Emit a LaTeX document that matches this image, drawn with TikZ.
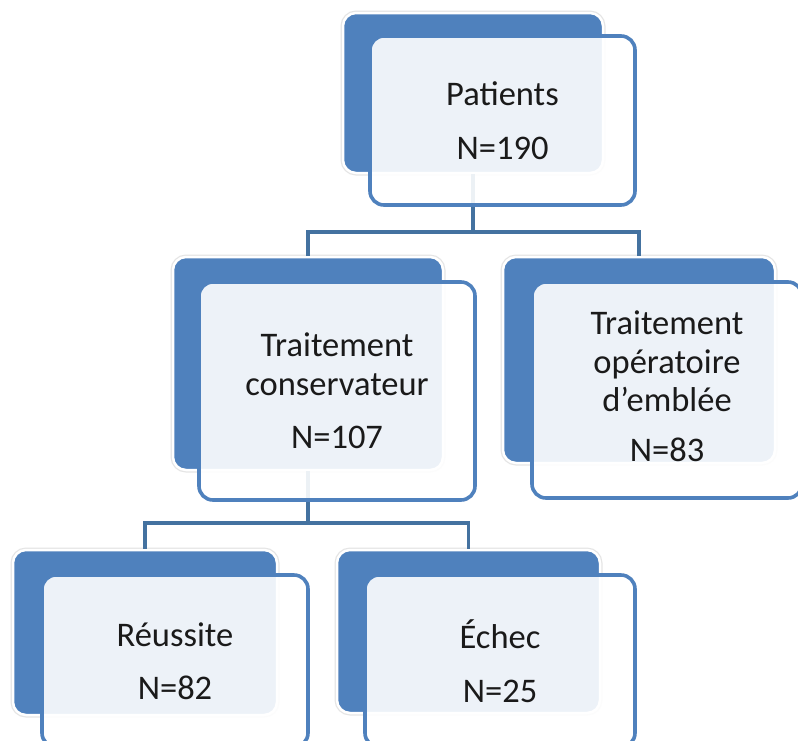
\documentclass[tikz,border=0pt]{standalone}
\usepackage{fontspec}
\setmainfont{Carlito}
\definecolor{backblue}{HTML}{4F81BD}
\definecolor{frontline}{HTML}{4F81BD}
\definecolor{connblue}{HTML}{4472A0}
\definecolor{txt}{HTML}{1A1A1A}
\tikzset{
  backbox/.style={rectangle, rounded corners=13pt, fill=backblue,
    preaction={draw=black!10, line width=5pt}, draw=white, line width=2.5pt,
    inner sep=0pt},
  frontbox/.style={rectangle, rounded corners=14pt, fill=white, fill opacity=0.9,
    text opacity=1, draw=frontline, line width=3.6pt, inner sep=0pt,
    align=center, text=txt, font=\fontsize{34.5}{38.5}\selectfont},
  boxtext/.style={align=center, text=txt, inner sep=0pt, font=\fontsize{34.5}{38.5}\selectfont},
  conn/.style={draw=connblue, line width=3.6pt}
}
\begin{document}
\begin{tikzpicture}[x=1pt,y=-1pt]
\fill[white] (0,0) rectangle (798,740);
\clip (0,0) rectangle (798,740);
% back boxes
\node[backbox, minimum width=260pt, minimum height=160pt] (pB) at (473,93) {};
\node[backbox, minimum width=270pt, minimum height=213pt] (cB) at (308,363.5) {};
\node[backbox, minimum width=272pt, minimum height=206pt] (oB) at (639,360) {};
\node[backbox, minimum width=264pt, minimum height=165pt] (rB) at (145,632.5) {};
\node[backbox, minimum width=263pt, minimum height=163pt] (eB) at (468.5,631.5) {};
% junctions
\coordinate (j1) at (473,232);
\coordinate (j2) at (308,523);
% connectors
\draw[conn] (pB.south) -- (j1);
\draw[conn] (cB.north) |- (j1) -| (oB.north);
\draw[conn] (cB.south) -- (j2);
\draw[conn] (rB.north) |- (j2) -| (eB.north);
% front boxes
\node[frontbox, minimum width=265pt, minimum height=169pt] (p) at (502.5,120.5)
  {Patients\\[15pt]N=190};
\node[frontbox, minimum width=276pt, minimum height=218pt] (c) at (337,391)
  {Traitement\\conservateur\\[15pt]N=107};
\node[frontbox, minimum width=270pt, minimum height=216pt] (o) at (667,390) {};
\node[boxtext] (ot) at ([yshift=4pt]o.center)
  {Traitement\\opératoire\\d’emblée\\[11pt]N=83};
\node[frontbox, minimum width=266pt, minimum height=172pt] (r) at (175,661)
  {Réussite\\[15pt]N=82};
\node[frontbox, minimum width=270pt, minimum height=172pt] (e) at (500,661)
  {Échec\\[15pt]N=25};
\end{tikzpicture}
\end{document}
